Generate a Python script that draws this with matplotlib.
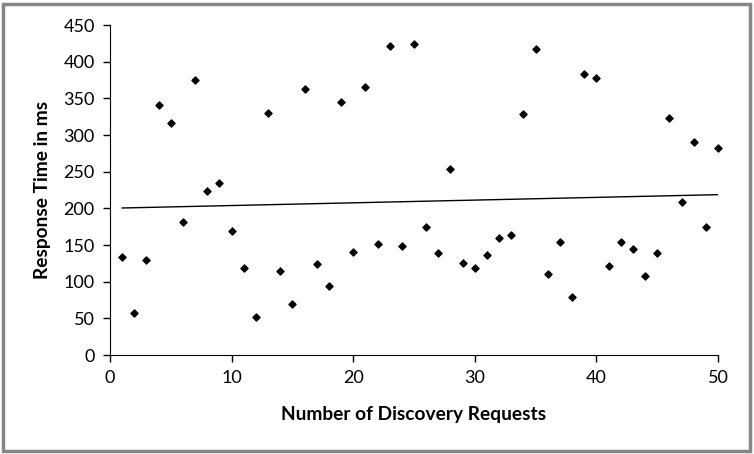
import matplotlib.pyplot as plt
from matplotlib.patches import Rectangle
import numpy as np

plt.rcParams['font.family'] = ['Lato', 'DejaVu Sans']

# данные
requests = np.arange(1, 51)
resp_ms = [133, 57, 129, 341, 317, 181, 375, 223, 234, 169,
           118, 52, 330, 114, 69, 363, 124, 94, 345, 140,
           366, 151, 421, 148, 424, 174, 139, 253, 125, 118,
           136, 159, 163, 328, 417, 110, 154, 79, 383, 378,
           121, 154, 144, 108, 139, 323, 209, 290, 174, 282]
x_ticks = [0, 10, 20, 30, 40, 50]
y_ticks = [0, 50, 100, 150, 200, 250, 300, 350, 400, 450]

fig = plt.figure(figsize=(7.54, 4.54), dpi=100)
ax = fig.add_axes([110/754, 1-355/454, 608/754, 330/454])

# рамка вокруг диаграммы
fig.patches.append(Rectangle((3/754, 3/454), 747/754, 447/454, transform=fig.transFigure,
                             fill=False, edgecolor='#868686', linewidth=2.5))

ax.scatter(requests, resp_ms, marker='D', s=13, color='black', zorder=3, clip_on=False)

# линейный тренд
k, b = np.polyfit(requests, resp_ms, 1)
xx = np.array([requests[0], requests[-1]])
ax.plot(xx, k*xx + b, color='black', linewidth=1)

ax.set_xlim(0, 50)
ax.set_ylim(0, 450)
ax.set_xticks(x_ticks)
ax.set_yticks(y_ticks)
ax.tick_params(labelsize=13, direction='out', length=5, width=1, pad=6)
for s in ['top', 'right']:
    ax.spines[s].set_visible(False)
ax.set_xlabel('Number of Discovery Requests', fontsize=13.8, fontweight='bold', labelpad=14)
ax.set_ylabel('Response Time in ms', fontsize=13.8, fontweight='bold', labelpad=9)

fig.savefig('out.png')
